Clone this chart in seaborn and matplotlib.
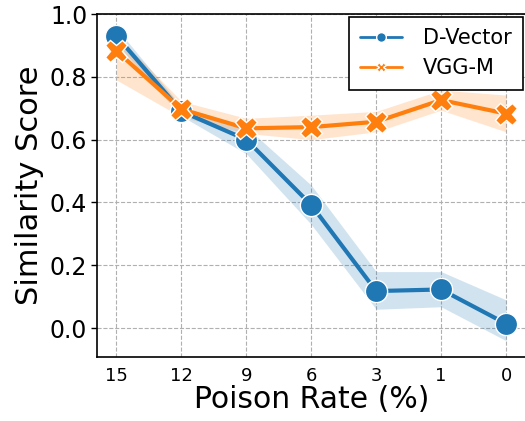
import matplotlib
matplotlib.use("Agg")
import matplotlib.pyplot as plt
import seaborn as sns
import pandas as pd

# Poison rates (%) shown left to right
rates = ["15", "12", "9", "6", "3", "1", "0"]

# Mean similarity score per model
dvector_mean = [0.930, 0.690, 0.600, 0.392, 0.118, 0.123, 0.014]
vggm_mean = [0.882, 0.697, 0.636, 0.640, 0.657, 0.726, 0.683]

# Confidence band limits per model
dvector_low = [0.905, 0.675, 0.555, 0.330, 0.060, 0.068, -0.040]
dvector_high = [0.955, 0.705, 0.640, 0.455, 0.180, 0.180, 0.090]
vggm_low = [0.790, 0.672, 0.620, 0.600, 0.625, 0.694, 0.625]
vggm_high = [0.935, 0.722, 0.668, 0.678, 0.690, 0.758, 0.742]

models = ["D-Vector", "VGG-M"]

df = pd.concat([
    pd.DataFrame({"rate": rates, "score": dvector_mean, "model": models[0]}),
    pd.DataFrame({"rate": rates, "score": vggm_mean, "model": models[1]}),
], ignore_index=True)

sns.set_style("whitegrid")
plt.rcParams["font.family"] = ["DejaVu Sans"]
plt.rcParams["text.color"] = "black"
plt.rcParams["axes.labelcolor"] = "black"
plt.rcParams["xtick.color"] = "black"
plt.rcParams["ytick.color"] = "black"

fig = plt.figure(figsize=(5.25, 4.21), dpi=100)
ax = fig.add_axes([0.1848, 0.152, 0.8162, 0.8147])

palette = sns.color_palette()[:2]

sns.lineplot(
    data=df, x="rate", y="score", hue="model", style="model",
    markers={"D-Vector": "o", "VGG-M": "X"}, dashes=False,
    palette=palette, linewidth=3, markersize=16,
    markeredgecolor="white", markeredgewidth=1, sort=False,
    errorbar=None, ax=ax,
)

pos = range(len(rates))
ax.fill_between(pos, dvector_low, dvector_high, color=palette[0], alpha=0.2, linewidth=0)
ax.fill_between(pos, vggm_low, vggm_high, color=palette[1], alpha=0.2, linewidth=0)

ax.set_xlim(-0.3, 6.3)
ax.set_ylim(-0.092, 1.0)
ax.set_yticks([0.0, 0.2, 0.4, 0.6, 0.8, 1.0])

ax.grid(True, linestyle="--", color="#b0b0b0", linewidth=0.8)
for s in ax.spines.values():
    s.set_color("black")
    s.set_linewidth(1.2)

ax.tick_params(axis="y", labelsize=17, left=True, length=4, width=1, color="black", pad=3)
ax.tick_params(axis="x", labelsize=13, bottom=False, pad=4)
ax.set_xlabel("Poison Rate (%)", fontsize=21.5, labelpad=0)
ax.set_ylabel("Similarity Score", fontsize=22, labelpad=4)

leg = ax.legend(loc="upper right", fontsize=15, frameon=True, fancybox=False,
                edgecolor="black", framealpha=1, borderpad=0.55, handlelength=2.0,
                handletextpad=1.0, borderaxespad=0.12)
leg.get_frame().set_linewidth(1.2)
for h in leg.legend_handles:
    h.set_markersize(7)
    h.set_linewidth(2)

fig.savefig("out.png", dpi=100)
